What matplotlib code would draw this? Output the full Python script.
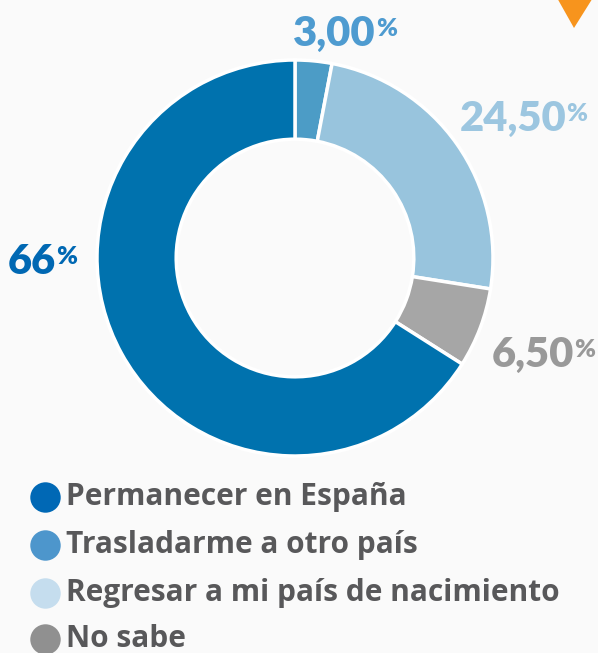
import matplotlib
matplotlib.use("Agg")
import matplotlib.pyplot as plt
from matplotlib.patches import Polygon

categories = ["Permanecer en España", "Trasladarme a otro país",
              "Regresar a mi país de nacimiento", "No sabe"]
values = [66.0, 3.0, 24.5, 6.5]
value_labels = ["66", "3,00", "24,50", "6,50"]

slice_colors = ["#0072AE", "#4C9CC6", "#98C4DD", "#A6A6A6"]
legend_colors = ["#0068B5", "#4D96CC", "#C5DDEE", "#909090"]
label_colors = ["#0068B3", "#4E9BD0", "#9CC6E0", "#999999"]

plt.rcParams['font.family'] = ['Lato', 'DejaVu Sans']

W, H = 598, 653
fig = plt.figure(figsize=(W / 100, H / 100), dpi=100)
fig.patch.set_facecolor("#FAFAFA")
ax = fig.add_axes([0, 0, 1, 1])
ax.set_facecolor("#FAFAFA")

cx, cy, R = 295, 258, 198  # pixel center and radius

# order clockwise from top: 3.00, 24.50, 6.50, 66
order = [1, 2, 3, 0]
ax.pie([values[i] for i in order], colors=[slice_colors[i] for i in order],
       startangle=90, counterclock=False, radius=1.0,
       wedgeprops=dict(width=0.40, edgecolor="white", linewidth=2.5))

ax.set_aspect("auto")
ax.set_xlim(-cx / R, (W - cx) / R)
ax.set_ylim((cy - H) / R, cy / R)
ax.axis("off")

# label positions (data units)
label_pos = {1: (0.20, 1.13), 2: (1.10, 0.70), 3: (1.20, -0.49), 0: (-1.33, -0.02)}
for i, (x, y) in label_pos.items():
    t = ax.text(x, y, value_labels[i], ha="center", va="center",
                fontsize=30, fontweight="heavy", color=label_colors[i])
    ax.annotate("%", xy=(1.0, 1.0), xycoords=t, xytext=(0, -2),
                textcoords="offset points", ha="left", va="top",
                fontsize=18, fontweight="heavy", color=label_colors[i])

# legend
legend_y = [497, 545, 593, 639]
for i, py in enumerate(legend_y):
    yd = (cy - py) / R
    xd = (45 - cx) / R
    ax.scatter([xd], [yd], s=480, color=legend_colors[i], zorder=3,
               clip_on=False, linewidths=0)
    ax.text((66 - cx) / R, yd, categories[i], ha="left", va="center",
            fontsize=21.5, fontweight="bold", color="#58585A",
            family=["Open Sans", "DejaVu Sans"])

# orange triangle top-right
tri = Polygon([((556 - cx) / R, cy / R + 0.02), ((594 - cx) / R, cy / R + 0.02),
               ((574 - cx) / R, (cy - 28) / R)], closed=True,
              facecolor="#F7941D", edgecolor="none", clip_on=False)
ax.add_patch(tri)

fig.savefig("out.png", dpi=100, facecolor=fig.get_facecolor())
